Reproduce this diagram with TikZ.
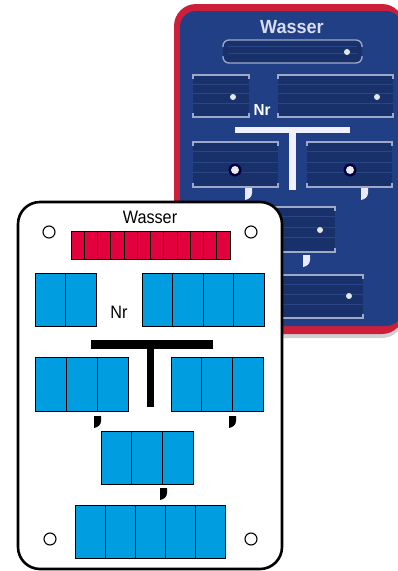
\documentclass[tikz,border=0pt]{standalone}
\usepackage{fontspec}
\setmainfont{Liberation Sans}
\newfontfamily\condfont[FakeStretch=0.9]{Liberation Sans}
\newfontfamily\boldcond[FakeStretch=0.95]{Liberation Sans Bold}
\usetikzlibrary{calc}
\definecolor{plRed}{HTML}{CC1F3A}
\definecolor{plBlue}{HTML}{213F85}
\definecolor{slotBlue}{HTML}{19316A}
\definecolor{slotLine}{HTML}{2A4584}
\definecolor{slotEdge}{HTML}{9EA9C9}
\definecolor{letterLight}{HTML}{DADCF0}
\definecolor{cellRed}{HTML}{E2003D}
\definecolor{cellBlue}{HTML}{009EE0}
\tikzset{
    cell/.style={draw=black,line width=0.9pt},
    redcell/.style={cell,fill=cellRed},
    bluecell/.style={cell,fill=cellBlue},
    hole/.style={draw=black,line width=1.1pt,fill=white},
    edgeline/.style={slotEdge,line width=1.3pt},
    stripe/.style={slotLine,line width=1pt}
}
% row of cells: x0, top y, cell width, height, count, style
\newcommand{\cellrow}[6]{%
    \foreach \k in {1,...,#5}{\draw[#6] ({#1+(\k-1)*#3},{-#2}) rectangle ++(#3,-#4);}}
% slot on the blue plate: x0, top y, x1, bottom y
\newcommand{\slotbox}[4]{%
    \fill[slotBlue] (#1,-#2) rectangle (#3,-#4);
    \foreach \f in {0.22,0.45,0.68}{\draw[stripe] (#1,{-#2-\f*(#4-#2)}) -- (#3,{-#2-\f*(#4-#2)});}
    \draw[edgeline] (#1,{-#2-4}) -- (#1,-#2) -- (#3,-#2) -- (#3,{-#2-4});
    \draw[edgeline] (#1,{-#4+4}) -- (#1,-#4) -- (#3,-#4) -- (#3,{-#4+4});}
% small hook mark: x0, top y, colour
\newcommand{\hookmark}[3]{%
    \fill[#3] (#1,-#2) -- ({#1+7},-#2) -- ({#1+7},{-#2-5}) to[out=-90,in=10] (#1,{-#2-12}) -- cycle;}

\begin{document}
\begin{tikzpicture}[x=1pt,y=1pt]
    \useasboundingbox (0,0) rectangle (398,-571);
    % blue plate behind
    \fill[black!18,rounded corners=22pt] (178,-8) rectangle (404,-338);
    \fill[plRed,rounded corners=22pt] (174,-4) rectangle (404,-334);
    \fill[plBlue,rounded corners=16pt] (180,-11) rectangle (402,-326);
    \node[anchor=base,text=letterLight,font=\boldcond\fontsize{19}{19}\selectfont] (wasserB) at (292,-33) {Wasser};
    \fill[slotBlue,rounded corners=8pt] (223,-40) rectangle (362,-63);
    \foreach \f in {0.3,0.6}{\draw[stripe] (228,{-40-\f*23}) -- (357,{-40-\f*23});}
    \draw[edgeline,rounded corners=6pt] (223,-47) -- (223,-40) -- (362,-40) -- (362,-47);
    \draw[edgeline,rounded corners=6pt] (223,-56) -- (223,-63) -- (362,-63) -- (362,-56);
    \slotbox{193}{75}{249}{117}
    \slotbox{278}{75}{393}{117}
    \node[anchor=base,text=white,font=\boldcond\fontsize{16}{16}\selectfont] (nrB) at (262,-115) {Nr};
    \fill[white!94!blue] (235,-127) rectangle (350,-133);
    \fill[white!94!blue] (289,-133) rectangle (296,-190);
    \slotbox{193}{142}{278}{187}
    \slotbox{307}{142}{392}{187}
    \slotbox{250}{207}{335}{252}
    \slotbox{222}{275}{363}{318}
    % dots
    \foreach \px/\py in {347/52,233/97,377/97,320/230,349/296}{\fill[white!80!gray] (\px,-\py) circle (3);}
    \foreach \px/\py in {235/170,350/170}{\fill[black!75!blue] (\px,-\py) circle (6.5); \fill[white!85!gray] (\px,-\py) circle (4);}
    \hookmark{245}{188}{white!92!blue}
    \hookmark{361}{188}{white!92!blue}
    \hookmark{303}{255}{white!92!blue}
    % white plate in front
    \draw[line width=2.6pt,fill=white,rounded corners=22pt] (18,-202) rectangle (282,-569);
    \node[anchor=base,font=\condfont\fontsize{18}{18}\selectfont] (wasserA) at (150,-223) {Wasser};
    \foreach \px/\py in {49/232,251/232,50/539,251/539}{\draw[hole] (\px,-\py) circle (6);}
    \cellrow{71}{231}{13.25}{28}{12}{redcell}
    \cellrow{35}{273}{30.5}{53}{2}{bluecell}
    \cellrow{142}{273}{30.5}{53}{4}{bluecell}
    \node[anchor=base,font=\condfont\fontsize{18}{18}\selectfont] (nrA) at (119,-318) {Nr};
    \fill[black] (91,-340) rectangle (213,-349);
    \fill[black] (147,-349) rectangle (154,-407);
    \cellrow{35}{357}{31}{54}{3}{bluecell}
    \cellrow{171}{357}{30.7}{54}{3}{bluecell}
    \hookmark{94}{416}{black}
    \hookmark{229}{416}{black}
    \cellrow{101}{431}{30.7}{53}{3}{bluecell}
    \hookmark{160}{488}{black}
    \cellrow{75}{505}{30}{53}{5}{bluecell}
\end{tikzpicture}
\end{document}
